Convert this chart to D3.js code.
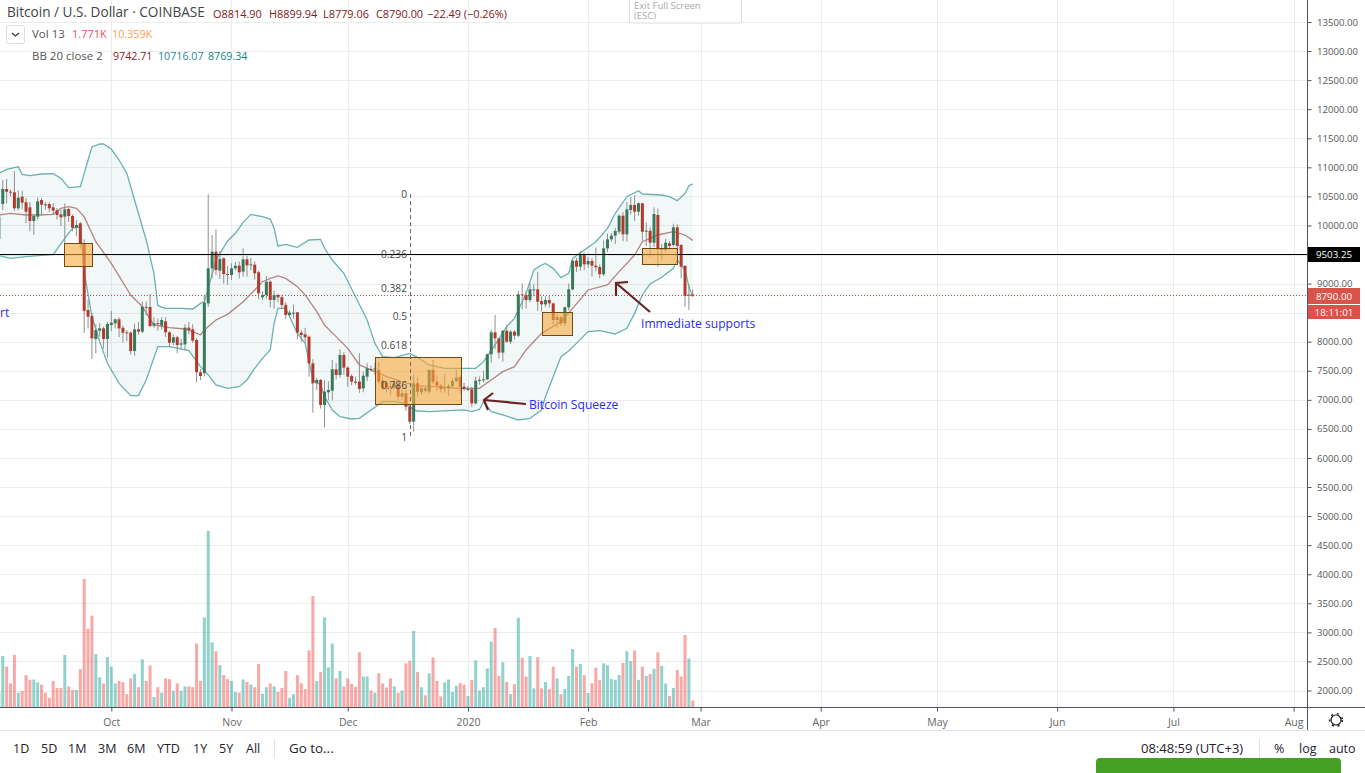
<!DOCTYPE html>
<html>
<head>
<meta charset="utf-8">
<title>Bitcoin / U.S. Dollar</title>
<script src="https://cdnjs.cloudflare.com/ajax/libs/d3/7.8.5/d3.min.js"></script>
<style>
  html, body { margin: 0; padding: 0; background: #fff; overflow: hidden; }
  svg { display: block; }
  text { font-family: "Open Sans", "Noto Sans", sans-serif; }
</style>
</head>
<body>
<div id="chart"></div>
<script>
// daily candles, first one is 2 Sep 2019, last one 28 Feb 2020
var firstDay = "2019-09-02";

var opens = [
  9767,10369,10627,10581,10570,10295,10495,10400,10312,10077,10151,10438,10363,10369,10312,10260,10190,10151,10283,10163,9962,10037,9690,8546,8442,8047,8190,8230,8047,
  8288,8316,8385,8240,8160,8155,7840,8213,8173,8600,8597,8276,8320,8276,8350,8162,7984,8076,7950,7955,8242,8213,8030,7474,7460,8660,9262,9549,9223,9435,9165,
  9148,9262,9308,9205,9417,9325,9325,9194,8764,8804,9033,8718,8804,8764,8632,8460,8490,8506,8156,8127,8087,7628,7284,7342,6912,7130,7158,7525,7428,7772,
  7554,7410,7313,7313,7198,7399,7530,7525,7514,7330,7300,7232,7210,7256,7055,7112,6883,6625,7284,7130,7198,7141,7514,7313,7244,7200,7198,7238,7325,7388,7227,
  7180,7181,6940,7330,7342,7353,7783,8162,8058,7812,8190,8001,8173,8104,8815,8804,8718,8895,8901,8700,8643,8718,8660,8374,8420,8316,8592,8901,9394,9291,9503,
  9331,9389,9308,9286,9160,9606,9761,9824,9893,10168,9847,10266,10352,10237,10381,9900,9910,9704,10180,9578,9578,9693,9664,9968,9664,9303,8798,8815
];
var closes = [
  10151,10627,10581,10570,10295,10478,10392,10237,10077,10163,10415,10358,10350,10295,10255,10180,10140,10277,10163,9962,10008,9690,8530,8431,8058,8202,8230,8047,8305,
  8328,8385,8230,8155,8145,7840,8213,8173,8603,8590,8270,8316,8305,8374,8162,7984,8076,7943,7970,8242,8200,8018,7474,7410,8672,9262,9549,9234,9423,9165,9150,
  9262,9308,9194,9417,9314,9330,9177,8832,8804,9033,8718,8804,8764,8632,8460,8500,8500,8156,8116,8076,7628,7284,7342,6912,7141,7170,7525,7428,7772,7554,
  7399,7313,7300,7187,7416,7542,7525,7540,7313,7198,7215,7225,7282,7055,7112,6883,6625,7284,7141,7198,7160,7514,7313,7244,7187,7210,7238,7325,7382,7227,7187,
  7187,6940,7330,7342,7353,7783,8162,8058,7812,8190,8001,8173,8104,8815,8810,8718,8901,8901,8689,8643,8718,8660,8374,8420,8316,8592,8901,9394,9291,9503,9331,
  9389,9308,9280,9160,9606,9761,9824,9905,10168,9847,10277,10352,10237,10381,9893,9910,9704,10197,9589,9606,9704,9647,9968,9647,9291,8787,8810,8790
];
var highs = [
  10200,10782,10800,10620,10936,10600,10600,10470,10400,10200,10480,10470,10400,10400,10380,10300,10270,10380,10300,10190,10090,10060,9760,8730,8500,8300,8320,8260,8340,
  8530,8400,8420,8280,8200,8180,8310,8340,8690,8690,8820,8420,8400,8420,8420,8180,8120,8100,8050,8300,8340,8300,8060,7530,8800,10535,9836,9933,9560,9450,9300,
  9348,9370,9380,9606,9480,9440,9380,9220,8870,9130,9060,8880,8830,8810,8680,8540,8640,8510,8200,8240,8110,7700,7380,7360,7340,7320,7686,7630,7870,7820,
  7580,7440,7400,7800,7490,7630,7590,7640,7660,7390,7340,7300,7320,7290,7190,7170,6920,7440,7380,7230,7220,7530,7690,7420,7280,7440,7270,7370,7510,7420,7290,
  7240,7230,7400,7400,7500,7800,8210,8460,8060,8200,8290,8200,8200,8880,9000,8870,9010,8990,9205,8780,8780,8800,8670,8480,8440,8600,9000,9400,9440,9560,9530,
  9460,9440,9620,9330,9740,9860,9870,9960,10190,10230,10400,10490,10520,10400,10390,10050,9970,10310,10290,9680,9770,9730,10030,10020,9680,9320,8980,8899.94
];
var lows = [
  9730,10266,10380,10500,10250,10260,10280,10040,9900,9840,10100,10170,10270,10230,10180,10100,9990,9700,10060,9900,9820,9600,8150,8230,7700,7800,8090,7880,7730,
  8180,8230,8080,7990,8010,7780,7760,8120,8150,8450,8250,8240,8190,8210,8080,7900,7940,7800,7880,7860,8130,7980,7300,7340,7400,8600,9100,9150,9080,9000,8980,
  9062,9230,9090,9120,9119,9230,9070,8730,8720,8740,8590,8570,8680,8570,8390,8430,8400,8040,8000,7990,7400,6780,7170,6850,6527,6990,6990,7350,7380,7430,
  7230,7250,7260,7120,7130,7320,7480,7430,7270,7160,7130,7080,7180,7000,7000,6810,6580,6453,7050,7080,7120,7100,7270,7150,7130,7120,7070,7190,7300,7120,7150,
  7150,6880,6920,7260,7300,7340,7640,7870,7710,7657,7980,7960,8040,8080,8557,8570,8680,8780,8530,8520,8590,8590,8290,8240,8270,8270,8540,8880,9200,9220,9230,
  9270,9120,9210,9090,9130,9540,9720,9680,9850,9730,9720,10190,10080,10170,9740,9650,9460,9630,9291,9400,9540,9580,9640,9500,9090,8600,8546,8779.06
];
// volume in thousands
var volumes = [
  4,13.9,11,6.4,14.2,3.9,4.4,8.7,7.4,7.5,6.7,6.1,3.9,2.5,7.1,5.2,5.2,14.2,5.6,4.6,4.6,10.3,34.9,21.3,24.9,14.4,8.1,6.4,13.6,
  11,6.4,7.1,6.8,3.5,7.8,9,5.4,13,7.1,11.3,2.7,5.4,3.9,7.8,7.6,4.4,6.4,4.4,5.6,5.6,5.4,17.3,7.1,24.4,48,17.6,15.2,11.4,8.7,7.6,
  7.1,4.1,3.9,7.5,6.8,6.1,5.4,11.7,3.6,5.4,6.4,5.6,4.1,5.2,9.8,2.5,3.5,8.7,6.5,4.9,15.4,30.2,7.1,9.5,24.4,10.8,17.3,7.8,9.8,5.6,
  7.8,6.3,5.5,14.9,8.3,8.3,4.5,3.9,9.2,6.4,5.3,7.8,5.6,3.9,4.5,11.9,12.6,20.7,9.5,5.4,3.2,9.2,13.5,7.1,2.9,6.7,7.5,4.1,5.8,6.5,6.1,
  3,7.4,12.7,4.5,5.4,10.5,17.8,21.5,8.5,12.2,6.8,3.5,6.2,24.3,13.4,8.3,13.9,5.1,13.6,5.1,6.8,4.9,11,7.8,3.5,4.9,8.5,15.8,11,11.7,8.7,
  3.8,6.5,10.7,7.4,11.9,11.4,7.6,7.4,8.7,12,15.2,12.5,15.4,7.4,11,8.5,9,10.4,14.9,11.2,6.4,3,5.2,10.1,8.3,19.6,13.2,1.771
];

var upperDay = [0,2,5,6,8,11,14,16,18,21,22,23,24,26,27,29,31,33,35,38,40,41,43,47,50,52,53,54,56,59,61,63,65,68,70,71,72,74,77,80,83,84,86,89,92,95,97,99,102,106,108,111,115,119,123,125,128,131,133,134,136,138,140,141,143,145,147,148,150,154,157,159,162,165,166,171,173,175,177,178,179];
var upperVal = [10897,10965,11011,10880,10856,10885,10891,10811,10650,10667,10897,11126,11350,11401,11401,11315,11126,10897,10438,9750,9176,8620,8574,8574,8563,8660,8690,8918,9406,9733,9865,10054,10191,10151,10111,9951,9647,9675,9624,9750,9761,9607,9406,9177,8775,8374,7972,7743,7726,7800,7731,7600,7542,7542,7542,7657,7944,8259,8402,8546,8832,9234,9320,9348,9262,9102,9176,9434,9532,9721,9951,10209,10495,10598,10541,10524,10495,10426,10553,10684,10716];
var lowerDay = [0,3,7,11,14,17,19,21,22,24,26,28,31,34,36,38,41,44,49,52,54,56,59,62,64,66,68,70,71,72,74,75,77,79,81,83,84,86,88,91,93,96,99,102,105,107,108,111,120,122,124,125,127,130,134,137,140,141,143,145,147,149,152,155,159,162,164,166,168,171,174,175,177,178,179];
var lowerVal = [9480,9434,9463,9486,9498,9779,9950,9980,9200,8431,8001,7628,7284,7072,7072,7342,7915,7915,7846,7571,7428,7256,7198,7227,7342,7542,7714,7858,8316,8574,8574,8431,8144,7972,7342,7256,7055,6825,6711,6671,6682,6826,6969,6969,6940,6826,6808,6797,6826,6797,6837,6969,6797,6740,6654,6682,6825,7055,7399,7743,7840,7972,8173,8190,8133,8230,8488,8804,8993,9108,9262,9406,9234,8947,8769];
var basisDay = [0,3,7,10,14,16,18,20,22,25,29,34,37,40,44,48,50,52,53,56,59,63,66,68,70,72,74,77,79,82,84,87,90,93,96,100,104,108,113,119,124,127,130,133,136,140,145,148,152,157,160,164,166,170,174,177,179];
var basisVal = [10180,10209,10180,10180,10191,10295,10323,10295,10151,9721,9348,8804,8603,8288,8242,8219,8173,8116,8202,8374,8471,8689,8890,9033,9090,9131,9090,8947,8804,8517,8288,8087,7886,7600,7514,7399,7313,7238,7227,7198,7198,7342,7485,7571,7858,8144,8345,8574,8890,8976,9205,9492,9721,9836,9893,9836,9743];

var priceTicks = [2000,2500,3000,3500,4000,4500,5000,5500,6000,6500,7000,7500,8000,8500,9000,9500,10000,10500,11000,11500,12000,12500,13000,13500];
var monthTicks = ["2019-10-01","2019-11-01","2019-12-01","2020-01-01","2020-02-01","2020-03-01","2020-04-01","2020-05-01","2020-06-01","2020-07-01","2020-08-01"];
var monthNames = ["Oct","Nov","Dec","2020","Feb","Mar","Apr","May","Jun","Jul","Aug"];

// fibonacci retracement labels and their drawn heights in price
var fibLabels = ["0","0.236","0.382","0.5","0.618","0.786","1"];
var fibPrices = [10540,9510,8920,8435,7950,7260,6360];

// orange boxes: first/last candle number, top/bottom price
var boxStart = [16.9,97.1,140.2,166];
var boxEnd = [24.2,119.2,148,175.1];
var boxTop = [9700,7745,8511,9612];
var boxBottom = [9300,6940,8116,9340];

var rangeButtons = ["1D","5D","1M","3M","6M","YTD","1Y","5Y","All"];
var rangeX = [13,41,68,98,127,157,193,219,246];

var lastClose = 8790, lineLevel = 9503.25;

var width = 1365, height = 773, plotRight = 1307.5, plotBottom = 707.5;

var parseDay = d3.utcParse("%Y-%m-%d");
var start = parseDay(firstDay);
function dayDate(i) { return new Date(start.getTime() + i * 86400000); }

var x = d3.scaleUtc()
    .domain([start, parseDay("2020-08-01")])
    .range([-1.1, 1293.6]);

var y = d3.scaleLinear()
    .domain([2000, 13500])
    .range([690.5, 22]);

// the volume pane shares the bottom of the price pane
var yVol = d3.scaleLinear()
    .domain([0, 50])
    .range([707, 523.5]);

var svg = d3.select("#chart").append("svg")
    .attr("width", width)
    .attr("height", height);

svg.append("defs").append("clipPath").attr("id", "plot")
  .append("rect").attr("width", plotRight).attr("height", plotBottom);

var grid = svg.append("g").attr("class", "grid").attr("stroke", "#ececee");
grid.selectAll(".h").data(priceTicks).enter().append("line")
    .attr("x1", 0).attr("x2", plotRight)
    .attr("y1", function(d) { return Math.round(y(d)) + 0.5; })
    .attr("y2", function(d) { return Math.round(y(d)) + 0.5; });
grid.selectAll(".v").data(monthTicks).enter().append("line")
    .attr("y1", 0).attr("y2", plotBottom)
    .attr("x1", function(d) { return Math.round(x(parseDay(d))) + 0.5; })
    .attr("x2", function(d) { return Math.round(x(parseDay(d))) + 0.5; });

var candles = d3.range(volumes.length).map(function(i) {
  return { date: dayDate(i), o: opens[i], h: highs[i], l: lows[i], c: closes[i], v: volumes[i] };
});

var plot = svg.append("g").attr("clip-path", "url(#plot)");

// volume
plot.append("g").selectAll("rect").data(candles).enter().append("rect")
    .attr("x", function(d) { return x(d.date) - 1.5; })
    .attr("width", 3)
    .attr("y", function(d) { return yVol(d.v); })
    .attr("height", function(d) { return yVol(0) - yVol(d.v); })
    .attr("fill", function(d) { return d.c >= d.o ? "#26a69a" : "#ef5350"; })
    .attr("fill-opacity", 0.5);

// bollinger
function bandPoints(days, vals) {
  return days.map(function(d, i) { return [x(dayDate(d)), y(vals[i])]; });
}
var upperPts = bandPoints(upperDay, upperVal);
var lowerPts = bandPoints(lowerDay, lowerVal);
var basisPts = bandPoints(basisDay, basisVal);
var line = d3.line();

plot.append("path")
    .attr("d", line(upperPts.concat(lowerPts.slice().reverse())) + "Z")
    .attr("fill", "#198787")
    .attr("fill-opacity", 0.055);
plot.append("path").attr("d", line(upperPts))
    .attr("fill", "none").attr("stroke", "#138484").attr("stroke-opacity", 0.62).attr("stroke-width", 1.3);
plot.append("path").attr("d", line(lowerPts))
    .attr("fill", "none").attr("stroke", "#138484").attr("stroke-opacity", 0.62).attr("stroke-width", 1.3);
plot.append("path").attr("d", line(basisPts))
    .attr("fill", "none").attr("stroke", "#872323").attr("stroke-opacity", 0.55).attr("stroke-width", 1.3);

// candles
var candle = plot.append("g").selectAll("g").data(candles).enter().append("g");
candle.append("line")
    .attr("x1", function(d) { return x(d.date); })
    .attr("x2", function(d) { return x(d.date); })
    .attr("y1", function(d) { return y(d.h); })
    .attr("y2", function(d) { return y(d.l); })
    .attr("stroke", "#8f8f8f")
    .attr("stroke-width", 1);
candle.append("rect")
    .attr("x", function(d) { return x(d.date) - 1.5; })
    .attr("width", 3)
    .attr("y", function(d) { return y(Math.max(d.o, d.c)); })
    .attr("height", function(d) { return Math.max(1, Math.abs(y(d.o) - y(d.c))); })
    .attr("fill", function(d) { return d.c >= d.o ? "#37795a" : "#b23a2c"; });

// last price and the drawn level
plot.append("line")
    .attr("x1", 0).attr("x2", plotRight)
    .attr("y1", Math.floor(y(lastClose)) + 0.5).attr("y2", Math.floor(y(lastClose)) + 0.5)
    .attr("stroke", "#d9433a").attr("stroke-dasharray", "1,2");
plot.append("line")
    .attr("x1", 0).attr("x2", plotRight)
    .attr("y1", Math.round(y(lineLevel)) + 0.5).attr("y2", Math.round(y(lineLevel)) + 0.5)
    .attr("stroke", "#000");

// boxes
plot.append("g").selectAll("rect").data(boxStart).enter().append("rect")
    .attr("x", function(d) { return Math.round(x(dayDate(d))) + 0.5; })
    .attr("width", function(d, i) { return Math.round(x(dayDate(boxEnd[i])) - x(dayDate(d))); })
    .attr("y", function(d, i) { return Math.round(y(boxTop[i])) + 0.5; })
    .attr("height", function(d, i) { return Math.round(y(boxBottom[i]) - y(boxTop[i])); })
    .attr("fill", "#f8a93c").attr("fill-opacity", 0.6)
    .attr("stroke", "#6e4a14").attr("stroke-width", 1);

// fib labels and the dashed trend line
plot.append("line")
    .attr("x1", x(dayDate(106.2))).attr("x2", x(dayDate(106.2)))
    .attr("y1", y(10540)).attr("y2", y(6360))
    .attr("stroke", "#666").attr("stroke-dasharray", "4,3");
plot.append("g").selectAll("text").data(fibLabels).enter().append("text")
    .attr("x", 407)
    .attr("y", function(d, i) { return y(fibPrices[i]) + 4; })
    .attr("text-anchor", "end")
    .attr("font-size", 10.2)
    .attr("fill", "#4a4a4a")
    .text(function(d) { return d; });

// arrows
function arrow(tail, head, wing1, wing2) {
  plot.append("path")
      .attr("d", "M" + tail + "L" + head + "M" + wing1 + "L" + head + "L" + wing2)
      .attr("fill", "none").attr("stroke", "#6a2124").attr("stroke-width", 2.2);
}
arrow([526, 404], [484, 400], [493, 393], [488, 410]);
arrow([650, 312], [616, 283], [628, 282], [616, 296]);

var blue = "#2a2aff";
plot.append("text").attr("x", 529).attr("y", 409).attr("font-size", 12.1).attr("fill", blue).text("Bitcoin Squeeze");
plot.append("text").attr("x", 641).attr("y", 328).attr("font-size", 12.1).attr("fill", blue).text("Immediate supports");
plot.append("text").attr("x", 0).attr("y", 317).attr("font-size", 12.1).attr("fill", blue).text("rt");

// axes; 9500 and 8500 sit behind the price tags so they get no label
var yAxis = d3.axisRight(y).tickValues(priceTicks)
    .tickFormat(function(d) { return d === 9500 || d === 8500 ? "" : d3.format(".2f")(d); })
    .tickSize(4).tickPadding(5.5);
var gy = svg.append("g").attr("transform", "translate(" + plotRight + ",0)").call(yAxis);
gy.select(".domain").attr("stroke", "#50535e").attr("d", "M0,0V731");
gy.selectAll(".tick line").attr("stroke", "#50535e");
gy.selectAll(".tick text").attr("fill", "#555").attr("font-size", 9.6).attr("font-family", null);

var xAxis = d3.axisBottom(x)
    .tickValues(monthTicks.map(parseDay))
    .tickFormat(function(d, i) { return monthNames[i]; })
    .tickSize(4).tickPadding(7);
var gx = svg.append("g").attr("transform", "translate(0," + plotBottom + ")").call(xAxis);
gx.select(".domain").attr("stroke", "#50535e").attr("d", "M0,0H1365");
gx.selectAll(".tick line").attr("stroke", "#50535e");
gx.selectAll(".tick text").attr("fill", "#666").attr("font-size", 10.5).attr("font-family", null);

// price boxes on the right axis
function priceTag(top, h, fill, label) {
  svg.append("rect").attr("x", 1308).attr("y", top).attr("width", 52).attr("height", h).attr("fill", fill);
  svg.append("text").attr("x", 1334).attr("y", top + h / 2 + 3.5).attr("text-anchor", "middle")
      .attr("font-size", 9.8).attr("fill", "#fff").text(label);
}
priceTag(247, 15, "#000", d3.format(".2f")(lineLevel));
priceTag(288, 16, "#d9534a", d3.format(".2f")(lastClose));
priceTag(305, 14, "#d9534a", "18:11:01");

// legend
function label(px, py, size, fill, txt, anchor) {
  return svg.append("text").attr("x", px).attr("y", py).attr("font-size", size)
      .attr("fill", fill).attr("text-anchor", anchor || "start").text(txt);
}
label(7, 17, 13.6, "#444", "Bitcoin / U.S. Dollar · COINBASE");
label(213, 18, 10.9, "#7d2020", "O8814.90");
label(269, 18, 10.9, "#7d2020", "H8899.94");
label(323, 18, 10.9, "#7d2020", "L8779.06");
label(376, 18, 10.9, "#7d2020", "C8790.00");
label(427, 18, 10.9, "#7d2020", "−22.49 (−0.26%)");
svg.append("rect").attr("x", 6.5).attr("y", 25.5).attr("width", 18).attr("height", 18).attr("rx", 2)
    .attr("fill", "#fff").attr("stroke", "#dcdcdc");
svg.append("path").attr("d", "M12,33L15.5,36L19,33").attr("fill", "none").attr("stroke", "#333").attr("stroke-width", 1.2);
label(32, 38, 11.5, "#555", "Vol 13");
label(72, 38, 11, "#ef5060", "1.771K");
label(112, 38, 10.8, "#ff9f50", "10.359K");
label(32, 60, 11.5, "#555", "BB 20 close 2");
label(113, 60, 10.7, "#872323", "9742.71");
label(158, 60, 10.7, "#1f88a0", "10716.07");
label(208, 60, 10.7, "#138484", "8769.34");

// exit full screen hint
svg.append("rect").attr("x", 629.5).attr("y", -5).attr("width", 112).attr("height", 28).attr("rx", 2)
    .attr("fill", "#fff").attr("stroke", "#dedede");
label(634, 9, 9.5, "#aaa", "Exit Full Screen");
label(634, 19, 9.5, "#aaa", "(ESC)");

// settings gear
svg.append("circle").attr("cx", 1336).attr("cy", 720).attr("r", 5).attr("fill", "#fff").attr("stroke", "#222").attr("stroke-width", 1.2);
svg.append("circle").attr("cx", 1336).attr("cy", 720).attr("r", 6.3).attr("fill", "none").attr("stroke", "#222")
    .attr("stroke-width", 1.6).attr("stroke-dasharray", "2,3.95");

// bottom toolbar
svg.append("line").attr("x1", 0).attr("x2", width).attr("y1", 730.5).attr("y2", 730.5).attr("stroke", "#e0e3eb");
svg.append("g").selectAll("text").data(rangeButtons).enter().append("text")
    .attr("x", function(d, i) { return rangeX[i]; })
    .attr("y", 753)
    .attr("font-size", 12.5)
    .attr("fill", "#1e222d")
    .text(function(d) { return d; });
label(289, 753, 13.4, "#1e222d", "Go to...");
svg.append("line").attr("x1", 274.5).attr("x2", 274.5).attr("y1", 739).attr("y2", 758).attr("stroke", "#e0e3eb");
svg.append("line").attr("x1", 1259.5).attr("x2", 1259.5).attr("y1", 739).attr("y2", 758).attr("stroke", "#e0e3eb");
label(1141, 753, 13, "#1e222d", "08:48:59 (UTC+3)");
label(1274, 753, 12.5, "#1e222d", "%");
label(1299, 753, 12.5, "#1e222d", "log");
label(1329, 753, 12.5, "#1e222d", "auto");
svg.append("path").attr("d", "M1096,773V762Q1096,758 1100,758H1337Q1341,758 1341,762V773Z").attr("fill", "#45a023");
</script>
</body>
</html>
